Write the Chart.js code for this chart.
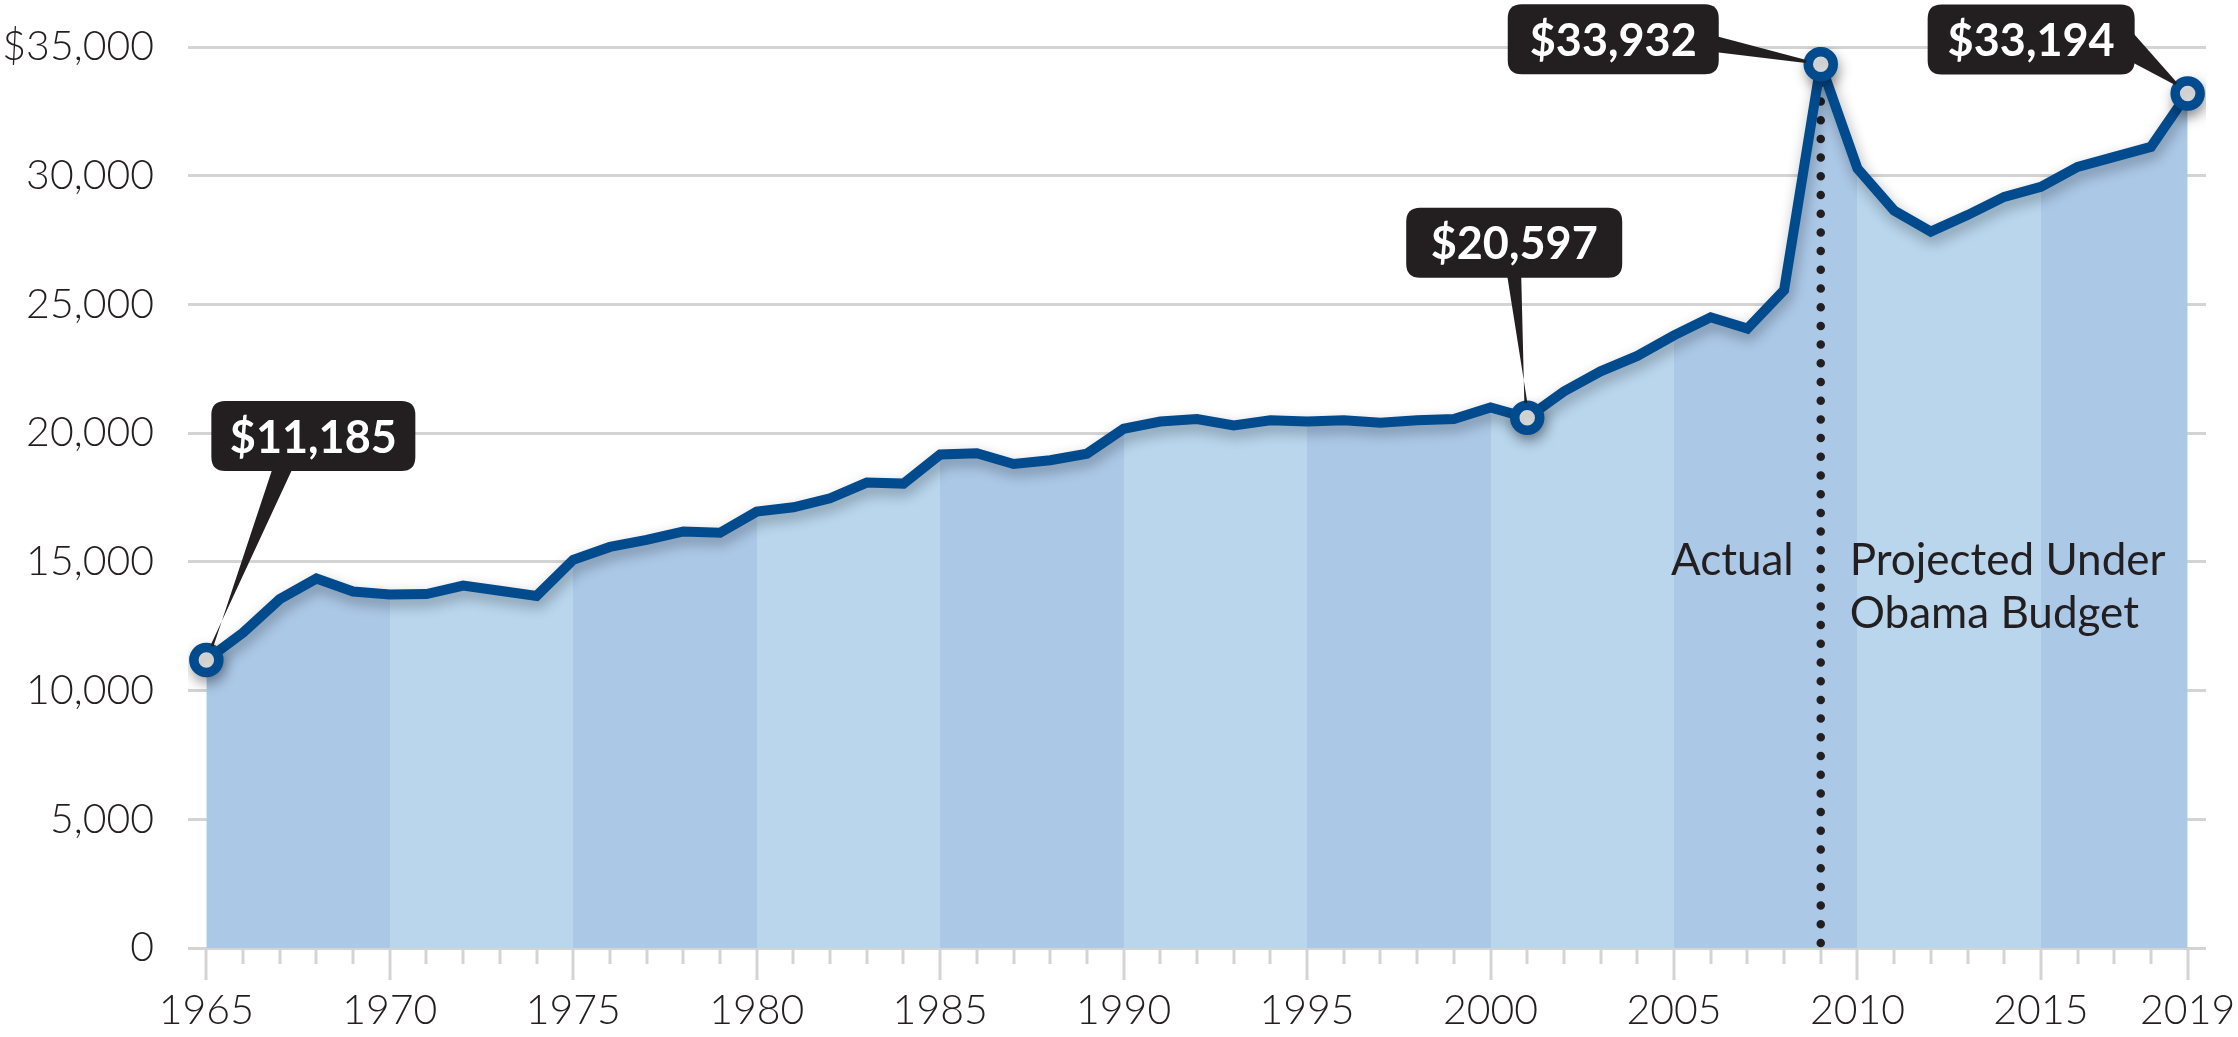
<!DOCTYPE html>
<html>
<head>
<meta charset="utf-8">
<title>Spending per household</title>
<script src="https://cdn.jsdelivr.net/npm/chart.js@4.4.1/dist/chart.umd.min.js"></script>
<style>
  html, body { margin: 0; padding: 0; background: #fff; }
  #wrap { position: relative; width: 2238px; height: 1037px; }
</style>
</head>
<body>
<div id="wrap"><canvas id="chart"></canvas></div>
<script>
// --- data ---
const years = [
  1965, 1966, 1967, 1968, 1969, 1970, 1971, 1972, 1973, 1974,
  1975, 1976, 1977, 1978, 1979, 1980, 1981, 1982, 1983, 1984,
  1985, 1986, 1987, 1988, 1989, 1990, 1991, 1992, 1993, 1994,
  1995, 1996, 1997, 1998, 1999, 2000, 2001, 2002, 2003, 2004,
  2005, 2006, 2007, 2008, 2009, 2010, 2011, 2012, 2013, 2014,
  2015, 2016, 2017, 2018, 2019
];
const spending = [
  11185, 12250, 13550, 14350, 13850, 13730, 13750, 14080, 13880, 13680,
  15080, 15580, 15850, 16180, 16130, 16950, 17120, 17470, 18080, 18040,
  19170, 19220, 18800, 18950, 19200, 20170, 20450, 20550, 20300, 20500,
  20450, 20500, 20400, 20500, 20550, 21000, 20597, 21620, 22400, 23000,
  23800, 24500, 24060, 25550, 34330, 30280, 28650, 27830, 28470, 29180,
  29570, 30340, 30730, 31120, 33194
];
const xTickYears = [1965, 1970, 1975, 1980, 1985, 1990, 1995, 2000, 2005, 2010, 2015, 2019];
const yTickValues = [0, 5000, 10000, 15000, 20000, 25000, 30000, 35000];
const bandEdges = [1965, 1970, 1975, 1980, 1985, 1990, 1995, 2000, 2005, 2010, 2015, 2019];
const calloutYears = [1965, 2001, 2009, 2019];
const calloutLabels = ['$11,185', '$20,597', '$33,932', '$33,194'];
const splitYear = 2009;
const leftNote = ['Actual'];
const rightNote = ['Projected Under', 'Obama Budget'];

// --- styling ---
const INK = '#231f20';
const LINE = '#004b8d';
const BAND_DARK = '#abc8e7';
const BAND_LIGHT = '#b9d6ed';
const GRID = '#d4d4d4';

// callout boxes, placed relative to their marker (px)
const calloutBoxes = [
  { dx: 5,    dy: -259, w: 204, side: 'bottom', b0: 61, b1: 81 },
  { dx: -121, dy: -210, w: 216, side: 'bottom', b0: 101, b1: 115 },
  { dx: -313, dy: -60,  w: 211, side: 'right',  b0: 32, b1: 48 },
  { dx: -260, dy: -89,  w: 207, side: 'right',  b0: 28, b1: 58 }
];
const BOX_H = 70;

const points = years.map((y, i) => ({ x: y, y: spending[i] }));

function bandFill(ctx) {
  const chart = ctx.chart;
  const xs = chart.scales.x;
  if (!chart.chartArea || !xs) return BAND_DARK;
  const x0 = xs.getPixelForValue(bandEdges[0]);
  const x1 = xs.getPixelForValue(bandEdges[bandEdges.length - 1]);
  const g = chart.ctx.createLinearGradient(x0, 0, x1, 0);
  for (let i = 0; i < bandEdges.length - 1; i++) {
    const c = i % 2 === 0 ? BAND_DARK : BAND_LIGHT;
    const a = (xs.getPixelForValue(bandEdges[i]) - x0) / (x1 - x0);
    const b = (xs.getPixelForValue(bandEdges[i + 1]) - x0) / (x1 - x0);
    g.addColorStop(Math.max(0, a), c);
    g.addColorStop(Math.min(1, b), c);
  }
  return g;
}

function roundRect(ctx, x, y, w, h, r) {
  ctx.beginPath();
  ctx.moveTo(x + r, y);
  ctx.lineTo(x + w - r, y);
  ctx.quadraticCurveTo(x + w, y, x + w, y + r);
  ctx.lineTo(x + w, y + h - r);
  ctx.quadraticCurveTo(x + w, y + h, x + w - r, y + h);
  ctx.lineTo(x + r, y + h);
  ctx.quadraticCurveTo(x, y + h, x, y + h - r);
  ctx.lineTo(x, y + r);
  ctx.quadraticCurveTo(x, y, x + r, y);
  ctx.closePath();
}

const decor = {
  id: 'decor',
  afterDraw(chart) {
    // year tick marks under the axis
    const ctx = chart.ctx;
    const xs = chart.scales.x;
    const bottom = chart.chartArea.bottom;
    ctx.save();
    ctx.strokeStyle = GRID;
    ctx.lineWidth = 3;
    years.forEach(y => {
      const major = xTickYears.includes(y);
      const px = Math.round(xs.getPixelForValue(y));
      ctx.beginPath();
      ctx.moveTo(px, bottom);
      ctx.lineTo(px, bottom + (major ? 32 : 16));
      ctx.stroke();
    });
    ctx.restore();
  },
  afterDatasetDraw(chart, args) {
    if (args.index !== 0) return;
    // dotted divider between actual and projected
    const ctx = chart.ctx;
    const xs = chart.scales.x, ys = chart.scales.y;
    const px = xs.getPixelForValue(splitYear);
    const top = ys.getPixelForValue(spending[years.indexOf(splitYear)]) + 18;
    const bottom = chart.chartArea.bottom - 5;
    ctx.save();
    ctx.strokeStyle = INK;
    ctx.lineWidth = 8.5;
    ctx.lineCap = 'round';
    ctx.setLineDash([0, 18.7]);
    ctx.beginPath();
    ctx.moveTo(px, bottom);
    ctx.lineTo(px, top);
    ctx.stroke();
    ctx.setLineDash([]);

    ctx.fillStyle = INK;
    ctx.font = '400 44px Lato';
    ctx.textBaseline = 'alphabetic';
    ctx.textAlign = 'right';
    leftNote.forEach((t, i) => ctx.fillText(t, px - 27, 575 + i * 53));
    ctx.textAlign = 'left';
    rightNote.forEach((t, i) => ctx.fillText(t, px + 29, 575 + i * 53));
    ctx.restore();
  },
  beforeDatasetDraw(chart, args) {
    if (args.index !== 1) return;
    const ctx = chart.ctx;
    ctx.save();
    ctx.shadowColor = 'rgba(0,0,0,0.32)';
    ctx.shadowBlur = 14;
    ctx.shadowOffsetX = 2;
    ctx.shadowOffsetY = 6;
  },
  afterDatasetsDraw(chart) {
    const ctx = chart.ctx;
    const xs = chart.scales.x, ys = chart.scales.y;
    calloutYears.forEach((yr, i) => {
      const mx = xs.getPixelForValue(yr);
      const my = ys.getPixelForValue(spending[years.indexOf(yr)]);
      const b = calloutBoxes[i];
      const bx = mx + b.dx, by = my + b.dy;
      let p0, p1;
      if (b.side === 'bottom') {
        p0 = [bx + b.b0, by + BOX_H - 2];
        p1 = [bx + b.b1, by + BOX_H - 2];
      } else {
        p0 = [bx + b.w - 2, by + b.b0];
        p1 = [bx + b.w - 2, by + b.b1];
      }
      const cx = (p0[0] + p1[0]) / 2, cy = (p0[1] + p1[1]) / 2;
      const d = Math.hypot(mx - cx, my - cy);
      const tx = mx - (mx - cx) / d * 15, ty = my - (my - cy) / d * 15;
      const nx = -(my - cy) / d * 1.5, ny = (mx - cx) / d * 1.5;
      ctx.save();
      ctx.fillStyle = INK;
      ctx.beginPath();
      ctx.moveTo(p0[0], p0[1]);
      ctx.lineTo(p1[0], p1[1]);
      ctx.lineTo(tx + nx, ty + ny);
      ctx.lineTo(tx - nx, ty - ny);
      ctx.closePath();
      ctx.fill();
      roundRect(ctx, bx, by, b.w, BOX_H, 14);
      ctx.fill();
      ctx.fillStyle = '#ffffff';
      ctx.font = '700 45px Lato';
      ctx.textAlign = 'center';
      ctx.textBaseline = 'middle';
      ctx.fillText(calloutLabels[i], bx + b.w / 2, by + BOX_H / 2 + 2);
      ctx.restore();
    });
  }
};

// restore after the shadowed line is drawn
const shadowEnd = {
  id: 'shadowEnd',
  afterDatasetDraw(chart, args) {
    if (args.index === 1) chart.ctx.restore();
  }
};

new Chart(document.getElementById('chart'), {
  type: 'line',
  data: {
    datasets: [
      {
        data: points,
        borderWidth: 0,
        pointRadius: 0,
        fill: 'origin',
        backgroundColor: bandFill,
        tension: 0,
        order: 2
      },
      {
        data: points,
        borderColor: LINE,
        borderWidth: 10,
        borderJoinStyle: 'miter',
        fill: false,
        tension: 0,
        pointRadius: ctx => calloutYears.includes(ctx.raw && ctx.raw.x) ? 12.5 : 0,
        pointBackgroundColor: '#ffffff',
        pointBorderColor: LINE,
        pointBorderWidth: 9.5,
        order: 1
      }
    ]
  },
  options: {
    responsive: true,
    maintainAspectRatio: false,
    animation: false,
    events: [],
    layout: { padding: { top: 47, right: 32, left: 0, bottom: 0 } },
    plugins: { legend: { display: false }, tooltip: { enabled: false } },
    scales: {
      x: {
        type: 'linear',
        min: 1964.5,
        max: 2019.5,
        afterBuildTicks: s => { s.ticks = xTickYears.map(v => ({ value: v })); },
        afterFit: s => { s.height = 89; s.paddingLeft = 0; s.paddingRight = 0; },
        grid: { display: false, drawTicks: false },
        border: { display: false },
        ticks: {
          autoSkip: false,
          maxRotation: 0,
          padding: 38,
          color: INK,
          font: { family: 'Lato', weight: '300', size: 41 },
          callback: v => String(v)
        }
      },
      y: {
        min: 0,
        max: 35000,
        afterBuildTicks: s => { s.ticks = yTickValues.map(v => ({ value: v })); },
        afterFit: s => { s.width = 188; s.paddingTop = 0; s.paddingBottom = 0; },
        grid: { color: GRID, lineWidth: 3, drawTicks: false },
        border: { display: false },
        ticks: {
          padding: 34,
          color: INK,
          font: { family: 'Lato', weight: '300', size: 41 },
          callback: v => (v === 35000 ? '$' : '') + v.toLocaleString('en-US')
        }
      }
    }
  },
  plugins: [decor, shadowEnd]
});
</script>
</body>
</html>
